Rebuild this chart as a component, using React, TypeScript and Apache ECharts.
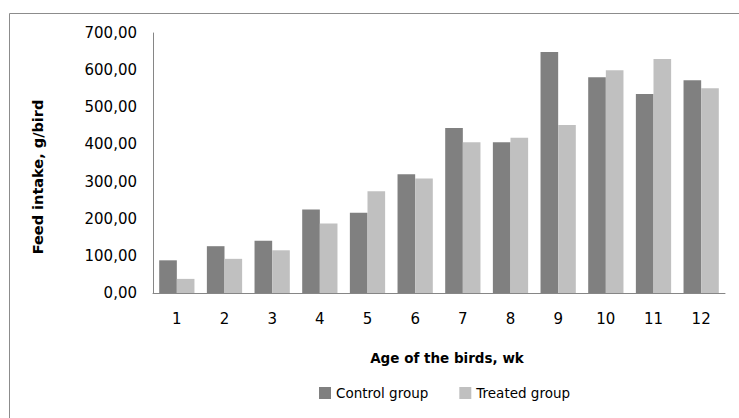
import React, { useEffect, useRef } from "react";
import * as echarts from "echarts";

const weeks = ["1", "2", "3", "4", "5", "6", "7", "8", "9", "10", "11", "12"];
const controlGroup = [88, 126, 141, 225, 216, 320, 444, 406, 649, 581, 536, 573];
const treatedGroup = [38, 92, 115, 187, 274, 308, 406, 418, 452, 600, 630, 551];
const seriesNames = ["Control group", "Treated group"];
const yTitle = "Feed intake, g/bird";
const xTitle = "Age of the birds, wk";

export default function App() {
  const ref = useRef<HTMLDivElement>(null);
  useEffect(() => {
    if (!ref.current) return;
    const chart = echarts.init(ref.current, undefined, { renderer: "svg" });
    const font = "'DejaVu Sans', sans-serif";
    chart.setOption({
      animation: false,
      backgroundColor: "#ffffff",
      textStyle: { fontFamily: font },
      grid: { left: 153, top: 33, right: 14, bottom: 125, containLabel: false },
      legend: {
        left: 319,
        top: 386,
        padding: 0,
        itemWidth: 12,
        itemHeight: 12,
        itemGap: 31,
        icon: "rect",
        textStyle: { fontFamily: font, fontSize: 13.5, color: "#000" },
        data: seriesNames,
      },
      xAxis: {
        type: "category",
        data: weeks,
        axisLine: { show: true, lineStyle: { color: "#868686", width: 1 } },
        axisTick: { show: false },
        axisLabel: { fontFamily: font, fontSize: 15, color: "#000", margin: 18 },
        splitLine: { show: false },
      },
      yAxis: {
        type: "value",
        min: 0,
        max: 700,
        interval: 100,
        axisLine: { show: true, lineStyle: { color: "#868686", width: 1 } },
        axisTick: { show: false },
        splitLine: { show: false },
        axisLabel: {
          fontFamily: font,
          fontSize: 15,
          color: "#000",
          margin: 16,
          formatter: (v: number) => v.toFixed(2).replace(".", ","),
        },
      },
      graphic: [
        {
          type: "rect",
          silent: true,
          shape: { x: 9.5, y: 13.5, width: 900, height: 600 },
          style: { fill: "none", stroke: "#8c8c8c", lineWidth: 1 },
          z: -10,
        },
        {
          type: "text",
          x: 38,
          y: 177,
          rotation: Math.PI / 2,
          style: {
            text: yTitle,
            fontFamily: font,
            fontSize: 14.5,
            fontWeight: "bold",
            fill: "#000",
            textAlign: "center",
            textVerticalAlign: "middle",
          },
        },
        {
          type: "text",
          x: 447,
          y: 358,
          style: {
            text: xTitle,
            fontFamily: font,
            fontSize: 13.5,
            fontWeight: "bold",
            fill: "#000",
            textAlign: "center",
            textVerticalAlign: "middle",
          },
        },
      ],
      series: [
        {
          name: seriesNames[0],
          type: "bar",
          data: controlGroup,
          itemStyle: { color: "#808080" },
          barGap: "0%",
          barCategoryGap: "26%",
        },
        {
          name: seriesNames[1],
          type: "bar",
          data: treatedGroup,
          itemStyle: { color: "#c0c0c0" },
          barGap: "0%",
          barCategoryGap: "26%",
        },
      ],
    });
    return () => chart.dispose();
  }, []);
  return (
    <div
      ref={ref}
      style={{ position: "fixed", left: 0, top: 0, width: 739, height: 418 }}
    />
  );
}
